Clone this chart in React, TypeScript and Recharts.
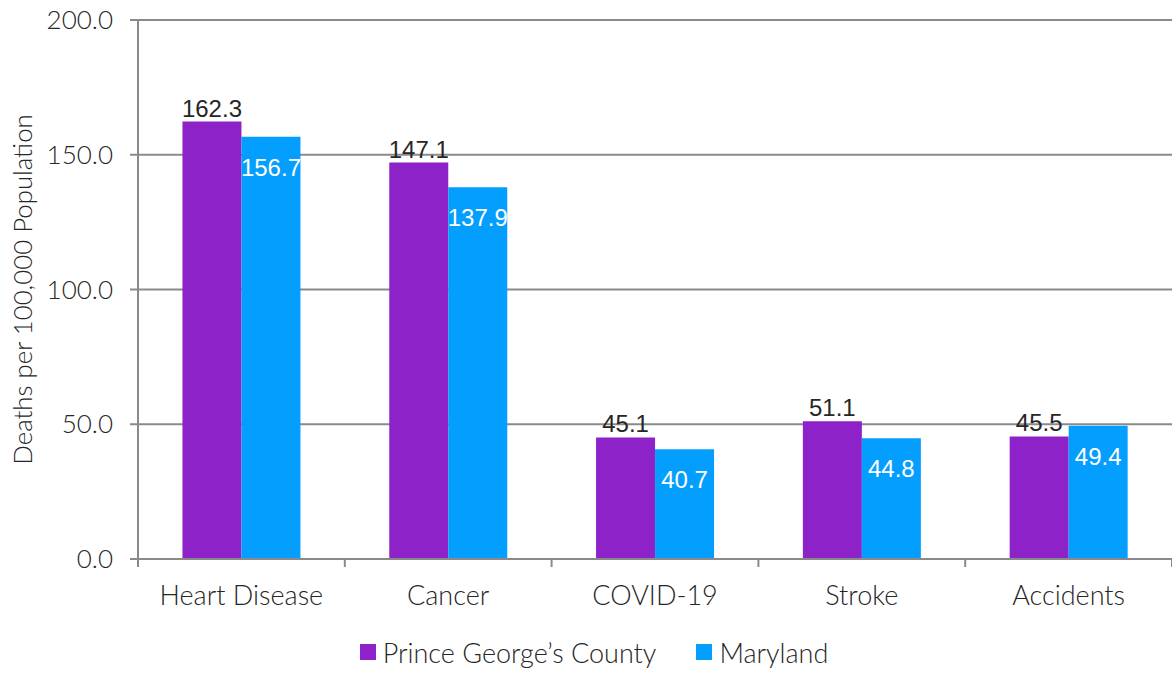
import React from "react";
import { BarChart, Bar, XAxis, YAxis, CartesianGrid, Legend, LabelList } from "recharts";

const categories = ["Heart Disease", "Cancer", "COVID-19", "Stroke", "Accidents"];
const countyValues = [162.3, 147.1, 45.1, 51.1, 45.5];
const marylandValues = [156.7, 137.9, 40.7, 44.8, 49.4];
const yTicks = [0, 50, 100, 150, 200];
const boundaryTicks = [0, 1, 2, 3, 4, 5];

const seriesNames = ["Prince George\u2019s County", "Maryland"];
const colors = ["#8C22C7", "#049EFE"];

const data = categories.map((c, i) => ({
  name: c,
  county: countyValues[i],
  maryland: marylandValues[i],
  idx: i,
}));

const axisFont = "Lato, 'Open Sans', sans-serif";
const labelFont = "'Liberation Sans', Arial, sans-serif";
const gray = "#8a8a8a";
const textColor = "#262626";

const LegendContent = () => (
  <div
    style={{
      height: 54,
      display: "flex",
      justifyContent: "center",
      alignItems: "center",
      fontFamily: axisFont,
      fontSize: 27,
      fontWeight: 300,
      color: textColor,
      paddingLeft: 16,
      paddingTop: 12,
      boxSizing: "border-box",
    }}
  >
    {seriesNames.map((n, i) => (
      <div key={n} style={{ display: "flex", alignItems: "center", marginRight: i === 0 ? 40 : 0 }}>
        <span style={{ width: 16, height: 16, background: colors[i], display: "inline-block", marginRight: 7 }} />
        <span>{n}</span>
      </div>
    ))}
  </div>
);

export default function App() {
  return (
    <div style={{ position: "absolute", left: 0, top: 0, background: "#fff" }}>
      <BarChart
        width={1172}
        height={673}
        data={data}
        margin={{ top: 20, right: 0, left: 0, bottom: 0 }}
        barCategoryGap="21.5%"
        barGap={0}
      >
        <CartesianGrid vertical={false} stroke={gray} strokeWidth={2} />
        <XAxis
          xAxisId="b"
          type="number"
          dataKey="idx"
          domain={[0, 5]}
          ticks={boundaryTicks}
          tickFormatter={() => ""}
          tickSize={8}
          height={1}
          axisLine={{ stroke: gray, strokeWidth: 2 }}
          tickLine={{ stroke: gray, strokeWidth: 2 }}
          allowDataOverflow
        />
        <XAxis
          xAxisId="c"
          dataKey="name"
          height={59}
          axisLine={false}
          tickLine={false}
          tickMargin={20}
          tick={{ fill: textColor, fontFamily: axisFont, fontSize: 27, fontWeight: 300 }}
        />
        <YAxis
          domain={[0, 200]}
          ticks={yTicks}
          width={138}
          tickSize={8}
          tickMargin={17}
          axisLine={{ stroke: gray, strokeWidth: 2 }}
          tickLine={{ stroke: gray, strokeWidth: 2 }}
          tickFormatter={(v: number) => v.toFixed(1)}
          tick={{ fill: textColor, fontFamily: axisFont, fontSize: 26, fontWeight: 300 }}
          label={{
            value: "Deaths per 100,000 Population",
            angle: -90,
            position: "insideLeft",
            offset: 23,
            style: { textAnchor: "middle", fill: textColor, fontFamily: axisFont, fontSize: 25.8, fontWeight: 300 },
          }}
        />
        <Legend verticalAlign="bottom" content={<LegendContent />} />
        <Bar xAxisId="c" dataKey="county" name={seriesNames[0]} fill={colors[0]} isAnimationActive={false}>
          <LabelList
            dataKey="county"
            position="top"
            offset={5}
            formatter={(v: number) => v.toFixed(1)}
            style={{ fill: textColor, fontFamily: labelFont, fontSize: 24 }}
          />
        </Bar>
        <Bar xAxisId="c" dataKey="maryland" name={seriesNames[1]} fill={colors[1]} isAnimationActive={false}>
          <LabelList
            dataKey="maryland"
            position="insideTop"
            offset={22}
            formatter={(v: number) => v.toFixed(1)}
            style={{ fill: "#ffffff", fontFamily: labelFont, fontSize: 24 }}
          />
        </Bar>
      </BarChart>
    </div>
  );
}
